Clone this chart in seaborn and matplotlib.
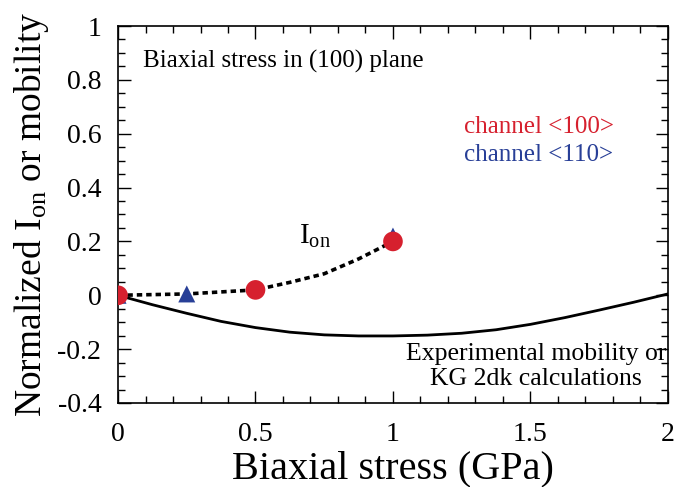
import matplotlib
matplotlib.use("Agg")
import matplotlib.pyplot as plt
import seaborn as sns
import pandas as pd
from matplotlib.ticker import MultipleLocator

# Data
ch100_x = [0.0, 0.5, 1.0]
ch100_y = [0.0, 0.02, 0.20]
ch110_x = [0.0, 0.25, 1.0]
ch110_y = [0.0, 0.005, 0.22]
ion_x = [0.0, 0.25, 0.5, 0.625, 0.75, 0.875, 1.0]
ion_y = [0.0, 0.005, 0.02, 0.048, 0.08, 0.135, 0.20]
mob_x = [0.0, 0.125, 0.25, 0.375, 0.5, 0.625, 0.75, 0.875, 1.0, 1.125, 1.25, 1.375, 1.5, 1.625, 1.75, 1.875, 2.0]
mob_y = [0.0, -0.035, -0.067, -0.097, -0.12, -0.137, -0.147, -0.151, -0.151, -0.148, -0.141, -0.128, -0.108, -0.083, -0.055, -0.026, 0.005]

sns.set_theme(style="ticks")
plt.rcParams['font.family'] = ['Liberation Serif', 'DejaVu Serif']
plt.rcParams['mathtext.fontset'] = 'custom'
plt.rcParams['mathtext.rm'] = 'Liberation Serif'
plt.rcParams['mathtext.it'] = 'Liberation Serif:italic'
for k in ['text.color', 'axes.labelcolor', 'xtick.color', 'ytick.color', 'axes.edgecolor']:
    plt.rcParams[k] = 'black'

RED = '#d6202e'
BLUE = '#283f97'

fig = plt.figure(figsize=(6.76, 4.87), dpi=100)
ax = fig.add_axes([0.1746, 0.1725, 0.8134, 0.7741])

sns.lineplot(x=mob_x, y=mob_y, ax=ax, color='black', lw=2.0, sort=False)
sns.lineplot(x=ion_x, y=ion_y, ax=ax, color='black', lw=2.6, sort=False,
             linestyle=(0, (1.5, 1.1)))
sns.scatterplot(x=ch110_x, y=ch110_y, ax=ax, marker='^', color=BLUE, s=150,
                edgecolor='none', zorder=3)
sns.scatterplot(x=ch100_x, y=ch100_y, ax=ax, marker='o', color=RED, s=200,
                edgecolor='none', zorder=4)

ax.set_xlim(0, 2)
ax.set_ylim(-0.4, 1)
ax.xaxis.set_minor_locator(MultipleLocator(0.1))
ax.yaxis.set_minor_locator(MultipleLocator(0.05))
ax.set_xticks([0, 0.5, 1, 1.5, 2])
ax.set_xticklabels(['0', '0.5', '1', '1.5', '2'])
ax.set_yticks([-0.4, -0.2, 0, 0.2, 0.4, 0.6, 0.8, 1])
ax.set_yticklabels(['-0.4', '-0.2', '0', '0.2', '0.4', '0.6', '0.8', '1'])
ax.tick_params(which='both', direction='in', top=True, right=True, labelsize=20,
               color='black', width=1.0)
ax.tick_params(which='major', length=9)
ax.tick_params(axis='x', which='major', pad=14)
ax.tick_params(axis='y', which='major', pad=12)
ax.tick_params(which='minor', length=5)
for s in ax.spines.values():
    s.set_linewidth(1.2)
    s.set_color('black')

ax.set_xlabel('Biaxial stress (GPa)', fontsize=29, labelpad=2)
ax.set_ylabel('Normalized I$_{\\mathrm{on}}$ or mobility', fontsize=27, labelpad=5)

ax.text(0.09, 0.87, 'Biaxial stress in (100) plane', fontsize=18, ha='left', va='center')
ax.text(1.53, 0.625, 'channel <100>', fontsize=18, color=RED, ha='center', va='center')
ax.text(1.53, 0.52, 'channel <110>', fontsize=18, color=BLUE, ha='center', va='center')
ax.text(0.66, 0.22, 'I$_{\\mathrm{on}}$', fontsize=21, ha='left', va='center')
ax.text(1.52, -0.265, 'Experimental mobility or\nKG 2dk calculations', fontsize=18.5,
        ha='center', va='center', linespacing=1.15)

fig.savefig('out.png', dpi=100)
